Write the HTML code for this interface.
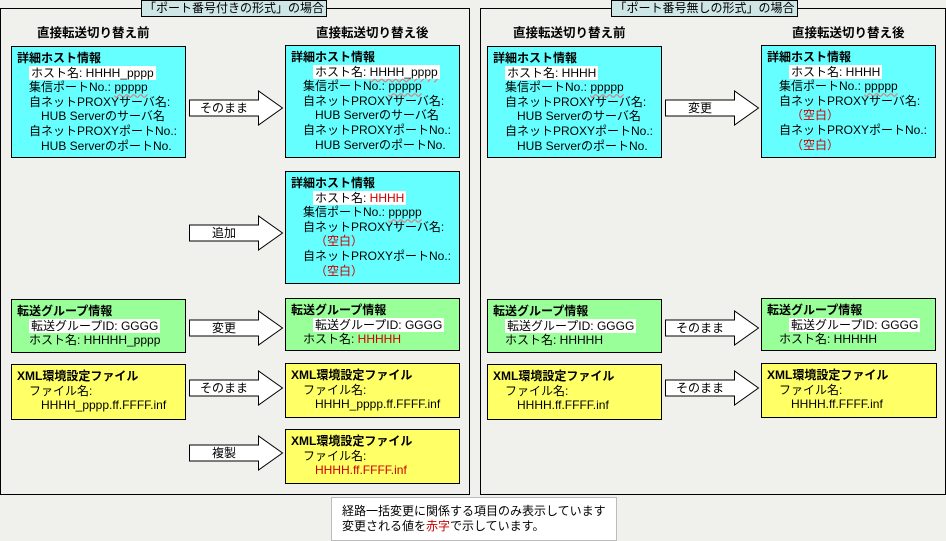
<!DOCTYPE html>
<html><head><meta charset="utf-8"><style>
*{margin:0;padding:0;box-sizing:border-box}
body{width:946px;height:540px;background:#f0f0ec;position:relative;overflow:hidden;font-family:"Liberation Sans","Noto Sans CJK JP",sans-serif;font-size:12px;color:#000}
.panel{position:absolute;border:1px solid #000;}
.ttl{position:absolute;top:0;height:17px;background:#cfe6e6;border:1px solid #000;font-size:12px;line-height:15px;text-align:center}
.hd{position:absolute;top:25px;font-weight:bold;font-size:12.5px;line-height:16px}
.box{position:absolute;border:1px solid #000;padding-top:4px;line-height:14.6px;white-space:nowrap}
.c{background:#66ffff}.g{background:#99ff99}.y{background:#ffff66}
.box div{position:relative}
.b{font-weight:bold}
.w{background:#fff;display:inline-block;padding:0 2px;margin-left:-2px;line-height:14px}
.r{color:#cc0000}
.u{text-decoration:underline wavy #e08080;text-underline-offset:2px}
.lab{position:absolute;width:70px;text-align:center;line-height:14px}
</style></head><body>
<svg width="946" height="540" style="position:absolute;left:0;top:0">
<g fill="#fff" stroke="#000" stroke-width="1">
<polygon points="189.5,100 258.5,100 258.5,91 282.5,108 258.5,125 258.5,116 189.5,116"/>
<polygon points="189.5,225 258.5,225 258.5,216 282.5,233 258.5,250 258.5,241 189.5,241"/>
<polygon points="189.5,320 258.5,320 258.5,311 282.5,328 258.5,345 258.5,336 189.5,336"/>
<polygon points="189.5,380 258.5,380 258.5,371 282.5,388 258.5,405 258.5,396 189.5,396"/>
<polygon points="189.5,445 258.5,445 258.5,436 282.5,453 258.5,470 258.5,461 189.5,461"/>
<polygon points="665.5,100 734.5,100 734.5,91 758.5,108 734.5,125 734.5,116 665.5,116"/>
<polygon points="665.5,320 734.5,320 734.5,311 758.5,328 734.5,345 734.5,336 665.5,336"/>
<polygon points="665.5,380 734.5,380 734.5,371 758.5,388 734.5,405 734.5,396 665.5,396"/>
</g></svg>
<div class="panel" style="left:0;top:8px;width:470px;height:487px"></div>
<div class="panel" style="left:480px;top:8px;width:466px;height:487px"></div>
<div class="ttl" style="left:141px;width:186px">「ポート番号付きの形式」の場合</div>
<div class="ttl" style="left:611px;width:187px">「ポート番号無しの形式」の場合</div>
<div class="hd" style="left:37px">直接転送切り替え前</div>
<div class="hd" style="left:316px">直接転送切り替え後</div>
<div class="hd" style="left:513px">直接転送切り替え前</div>
<div class="hd" style="left:792px">直接転送切り替え後</div>

<div class="lab" style="left:189px;top:101px">そのまま</div>
<div class="lab" style="left:189px;top:226px">追加</div>
<div class="lab" style="left:189px;top:321px">変更</div>
<div class="lab" style="left:189px;top:381px">そのまま</div>
<div class="lab" style="left:189px;top:446px">複製</div>
<div class="lab" style="left:665px;top:101px">変更</div>
<div class="lab" style="left:665px;top:321px">そのまま</div>
<div class="lab" style="left:665px;top:381px">そのまま</div>

<!-- left panel -->
<div class="box c" style="left:11px;top:46px;width:175px;height:112px">
<div class="b" style="left:5px">詳細ホスト情報</div>
<div style="left:19px"><span class="w">ホスト名: HHHH_pppp</span></div>
<div style="left:17px">集信ポートNo.: <span class="u">ppppp</span></div>
<div style="left:17px">自ネットPROXYサーバ名:</div>
<div style="left:29px">HUB Serverのサーバ名</div>
<div style="left:17px">自ネットPROXYポートNo.:</div>
<div style="left:29px">HUB ServerのポートNo.</div>
</div>
<div class="box c" style="left:285px;top:45px;width:175px;height:113px">
<div class="b" style="left:5px">詳細ホスト情報</div>
<div style="left:29px"><span class="w">ホスト名: <span class="u">HHHH_pppp</span></span></div>
<div style="left:17px">集信ポートNo.: <span class="u">ppppp</span></div>
<div style="left:17px">自ネットPROXYサーバ名:</div>
<div style="left:29px">HUB Serverのサーバ名</div>
<div style="left:17px">自ネットPROXYポートNo.:</div>
<div style="left:29px">HUB ServerのポートNo.</div>
</div>
<div class="box c" style="left:285px;top:171px;width:175px;height:113px">
<div class="b" style="left:5px">詳細ホスト情報</div>
<div style="left:29px"><span class="w">ホスト名: <span class="r">HHHH</span></span></div>
<div style="left:17px">集信ポートNo.: <span class="u">ppppp</span></div>
<div style="left:17px">自ネットPROXYサーバ名:</div>
<div style="left:29px" class="r">（空白）</div>
<div style="left:17px">自ネットPROXYポートNo.:</div>
<div style="left:29px" class="r">（空白）</div>
</div>
<div class="box g" style="left:11px;top:299px;width:175px;height:54px">
<div class="b" style="left:5px">転送グループ情報</div>
<div style="left:19px"><span class="w">転送グループID: GGGG</span></div>
<div style="left:17px">ホスト名: HHHHH_pppp</div>
</div>
<div class="box g" style="left:285px;top:298px;width:175px;height:53px">
<div class="b" style="left:5px">転送グループ情報</div>
<div style="left:29px"><span class="w">転送グループID: GGGG</span></div>
<div style="left:17px">ホスト名: <span class="r">HHHHH</span></div>
</div>
<div class="box y" style="left:11px;top:364px;width:175px;height:56px">
<div class="b" style="left:5px">XML環境設定ファイル</div>
<div style="left:17px">ファイル名:</div>
<div style="left:29px">HHHH_pppp.ff.FFFF.inf</div>
</div>
<div class="box y" style="left:285px;top:363px;width:175px;height:55px">
<div class="b" style="left:5px">XML環境設定ファイル</div>
<div style="left:17px">ファイル名:</div>
<div style="left:29px">HHHH_pppp.ff.FFFF.inf</div>
</div>
<div class="box y" style="left:285px;top:429px;width:175px;height:55px">
<div class="b" style="left:5px">XML環境設定ファイル</div>
<div style="left:17px">ファイル名:</div>
<div style="left:29px" class="r">HHHH.ff.FFFF.inf</div>
</div>

<!-- right panel -->
<div class="box c" style="left:487px;top:46px;width:175px;height:112px">
<div class="b" style="left:5px">詳細ホスト情報</div>
<div style="left:19px"><span class="w">ホスト名: HHHH</span></div>
<div style="left:17px">集信ポートNo.: <span class="u">ppppp</span></div>
<div style="left:17px">自ネットPROXYサーバ名:</div>
<div style="left:29px">HUB Serverのサーバ名</div>
<div style="left:17px">自ネットPROXYポートNo.:</div>
<div style="left:29px">HUB ServerのポートNo.</div>
</div>
<div class="box c" style="left:761px;top:45px;width:175px;height:113px">
<div class="b" style="left:5px">詳細ホスト情報</div>
<div style="left:29px"><span class="w">ホスト名: HHHH</span></div>
<div style="left:17px">集信ポートNo.: <span class="u">ppppp</span></div>
<div style="left:17px">自ネットPROXYサーバ名:</div>
<div style="left:29px" class="r">（空白）</div>
<div style="left:17px">自ネットPROXYポートNo.:</div>
<div style="left:29px" class="r">（空白）</div>
</div>
<div class="box g" style="left:487px;top:299px;width:175px;height:54px">
<div class="b" style="left:5px">転送グループ情報</div>
<div style="left:19px"><span class="w">転送グループID: GGGG</span></div>
<div style="left:17px">ホスト名: HHHHH</div>
</div>
<div class="box g" style="left:761px;top:298px;width:175px;height:53px">
<div class="b" style="left:5px">転送グループ情報</div>
<div style="left:29px"><span class="w">転送グループID: GGGG</span></div>
<div style="left:17px">ホスト名: HHHHH</div>
</div>
<div class="box y" style="left:487px;top:364px;width:175px;height:56px">
<div class="b" style="left:5px">XML環境設定ファイル</div>
<div style="left:17px">ファイル名:</div>
<div style="left:29px">HHHH.ff.FFFF.inf</div>
</div>
<div class="box y" style="left:761px;top:363px;width:176px;height:55px">
<div class="b" style="left:5px">XML環境設定ファイル</div>
<div style="left:17px">ファイル名:</div>
<div style="left:29px">HHHH.ff.FFFF.inf</div>
</div>

<div style="position:absolute;left:331px;top:497px;width:286px;height:44px;background:#fff;border:1px solid #bbb;padding:6px 0 0 10px;line-height:14.6px;font-size:12px">
経路一括変更に関係する項目のみ表示しています<br>変更される値を<span class="r">赤字</span>で示しています。
</div>
</body></html>
